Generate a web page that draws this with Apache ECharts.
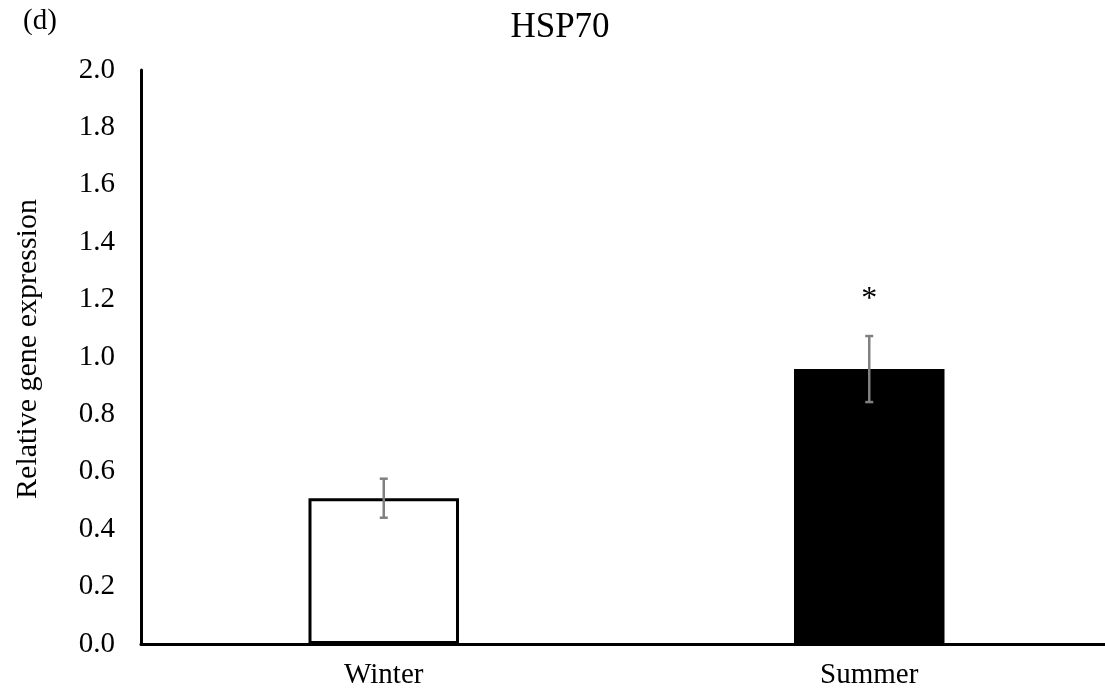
<!DOCTYPE html>
<html>
<head>
<meta charset="utf-8">
<script src="https://cdn.jsdelivr.net/npm/echarts@6/dist/echarts.min.js"></script>
<style>html,body{margin:0;padding:0;background:#fff}#c{width:1105px;height:693px}</style>
</head>
<body>
<div id="c"></div>
<script>
const categories = ['Winter', 'Summer'];
const values = [0.508, 0.958];
const errors = [0.068, 0.115];
const significance = ['', '*'];
const yTicks = [0, 0.2, 0.4, 0.6, 0.8, 1.0, 1.2, 1.4, 1.6, 1.8, 2.0];

const font = 'Liberation Serif, Times New Roman, serif';
const chart = echarts.init(document.getElementById('c'));
chart.setOption({
  animation: false,
  backgroundColor: '#fff',
  title: [
    { text: 'HSP70', left: 555, top: 5, textAlign: 'center',
      textStyle: { fontFamily: font, fontSize: 35, fontWeight: 'normal', color: '#000' } },
    { text: '(d)', left: 18, top: 2,
      textStyle: { fontFamily: font, fontSize: 29, fontWeight: 'normal', color: '#000' } }
  ],
  grid: { left: 141, top: 70, width: 971, height: 574, outerBoundsMode: 'none', containLabel: false },
  xAxis: {
    type: 'category', data: categories,
    axisLine: { lineStyle: { color: '#000', width: 3 } },
    axisTick: { show: false },
    axisLabel: { fontFamily: font, fontSize: 29, color: '#000', margin: 17 }
  },
  yAxis: {
    type: 'value', min: yTicks[0], max: yTicks[yTicks.length - 1], interval: 0.2,
    name: 'Relative gene expression', nameLocation: 'middle', nameGap: 98, nameRotate: 90,
    nameTextStyle: { fontFamily: font, fontSize: 30, color: '#000', padding: [0, 0, 0, 16] },
    axisLine: { show: true, lineStyle: { color: '#000', width: 3 } },
    axisTick: { show: false },
    splitLine: { show: false },
    axisLabel: { fontFamily: font, fontSize: 29, color: '#000', margin: 26,
      formatter: v => v.toFixed(1) }
  },
  series: [
    {
      type: 'bar', barWidth: '31%',
      data: values.map((v, i) => ({
        value: v,
        itemStyle: i === 0
          ? { color: '#fff', borderColor: '#000', borderWidth: 3 }
          : { color: '#000', borderColor: '#000', borderWidth: 0 }
      })),
      z: 2
    },
    {
      type: 'custom', z: 5,
      data: values.map((v, i) => [i, v - errors[i], v + errors[i]]),
      renderItem: function (params, api) {
        const lo = api.coord([api.value(0), api.value(1)]);
        const hi = api.coord([api.value(0), api.value(2)]);
        const x = lo[0], hw = 4;
        const style = { stroke: '#808080', lineWidth: 2.5 };
        return { type: 'group', children: [
          { type: 'line', shape: { x1: x, y1: lo[1], x2: x, y2: hi[1] }, style },
          { type: 'line', shape: { x1: x - hw, y1: lo[1], x2: x + hw, y2: lo[1] }, style },
          { type: 'line', shape: { x1: x - hw, y1: hi[1], x2: x + hw, y2: hi[1] }, style }
        ]};
      }
    },
    {
      type: 'custom', z: 6,
      data: values.map((v, i) => [i, v + errors[i], significance[i]]),
      renderItem: function (params, api) {
        const p = api.coord([api.value(0), api.value(1)]);
        return { type: 'text', style: { text: significance[params.dataIndex], x: p[0], y: p[1] - 20,
          align: 'center', verticalAlign: 'bottom', font: '32px ' + font, fill: '#000' } };
      }
    }
  ]
});
</script>
</body>
</html>
